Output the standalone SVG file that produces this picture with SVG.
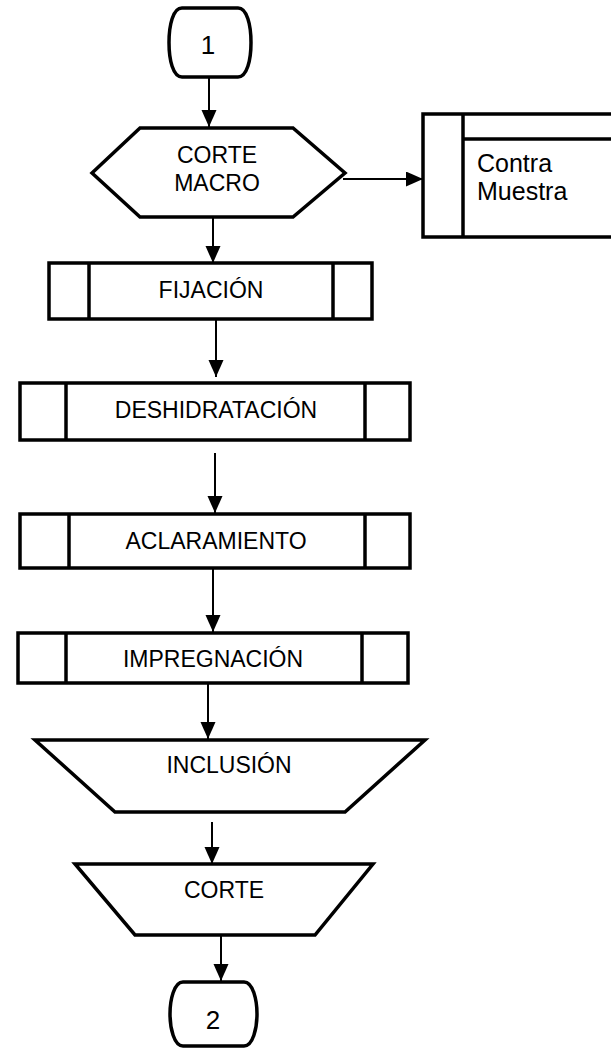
<svg xmlns="http://www.w3.org/2000/svg" width="611" height="1049" viewBox="0 0 611 1049">
<style>
.shape{fill:#fff;stroke:#000;stroke-width:3.5;stroke-linejoin:miter}
.div{stroke:#000;stroke-width:3.5;fill:none}
.lbl{font-family:"Liberation Sans",Arial,sans-serif;font-size:23px;fill:#000;text-anchor:middle}
.num{font-family:"Liberation Sans",Arial,sans-serif;font-size:26px;fill:#000;text-anchor:middle}
.big{font-family:"Liberation Sans",Arial,sans-serif;font-size:25px;fill:#000}
.conn{stroke:#000;stroke-width:2;fill:none;marker-end:url(#ah)}
</style>
<defs>
<marker id="ah" markerUnits="userSpaceOnUse" markerWidth="18" markerHeight="16" refX="17" refY="7.5" orient="auto">
<path d="M0,0 L17,7.5 L0,15 Z" fill="#000"/>
</marker>
</defs>
<rect width="611" height="1049" fill="#fff"/>
<g id="connectors">
<line class="conn" x1="209" y1="77" x2="209" y2="127"/>
<line class="conn" x1="343" y1="179" x2="423" y2="179"/>
<line class="conn" x1="213" y1="217" x2="213" y2="263"/>
<line class="conn" x1="216" y1="319" x2="216" y2="377"/>
<line class="conn" x1="215" y1="453" x2="215" y2="513"/>
<line class="conn" x1="213" y1="568" x2="213" y2="632"/>
<line class="conn" x1="208" y1="683" x2="208" y2="739"/>
<line class="conn" x1="212" y1="822" x2="212" y2="864"/>
<line class="conn" x1="221" y1="935" x2="221" y2="981"/>
</g>
<g id="start1">
<path class="shape" d="M182,8 H238 C247,8 251,25 251,42.5 C251,60 247,77 238,77 H182 C173,77 169,60 169,42.5 C169,25 173,8 182,8 Z"/>
<text class="num" x="208" y="54">1</text>
</g>
<g id="corte-macro">
<polygon class="shape" points="92,173 140,128 293,128 345,173 293,217 140,217"/>
<text class="lbl" x="217" y="163">CORTE</text>
<text class="lbl" x="217" y="191">MACRO</text>
</g>
<g id="contra-muestra">
<rect class="shape" x="423" y="114" width="220" height="123"/>
<line class="div" x1="463" y1="114" x2="463" y2="237"/>
<line class="div" x1="463" y1="139" x2="643" y2="139"/>
<text class="big" x="477" y="172">Contra</text>
<text class="big" x="477" y="200">Muestra</text>
</g>
<g id="fijacion">
<rect class="shape" x="49" y="263" width="323" height="56"/>
<line class="div" x1="89" y1="263" x2="89" y2="319"/>
<line class="div" x1="333" y1="263" x2="333" y2="319"/>
<text class="lbl" x="211" y="298">FIJACIÓN</text>
</g>
<g id="deshidratacion">
<rect class="shape" x="20" y="383" width="390" height="57"/>
<line class="div" x1="66" y1="383" x2="66" y2="440"/>
<line class="div" x1="365" y1="383" x2="365" y2="440"/>
<text class="lbl" x="216" y="418">DESHIDRATACIÓN</text>
</g>
<g id="aclaramiento">
<rect class="shape" x="20" y="514" width="390" height="54"/>
<line class="div" x1="69" y1="514" x2="69" y2="568"/>
<line class="div" x1="365" y1="514" x2="365" y2="568"/>
<text class="lbl" x="216" y="549">ACLARAMIENTO</text>
</g>
<g id="impregnacion">
<rect class="shape" x="18" y="633" width="390" height="50"/>
<line class="div" x1="66" y1="633" x2="66" y2="683"/>
<line class="div" x1="362" y1="633" x2="362" y2="683"/>
<text class="lbl" x="213" y="667">IMPREGNACIÓN</text>
</g>
<g id="inclusion">
<polygon class="shape" points="35,740 425,740 345,812 115,812"/>
<text class="lbl" x="229" y="773">INCLUSIÓN</text>
</g>
<g id="corte">
<polygon class="shape" points="75,864 373,864 315,935 135,935"/>
<text class="lbl" x="224" y="898">CORTE</text>
</g>
<g id="end2">
<path class="shape" d="M183,982 H244 C253,982 257,1000 257,1014 C257,1028 253,1046 244,1046 H183 C174,1046 170,1028 170,1014 C170,1000 174,982 183,982 Z"/>
<text class="num" x="213" y="1029">2</text>
</g>
</svg>
